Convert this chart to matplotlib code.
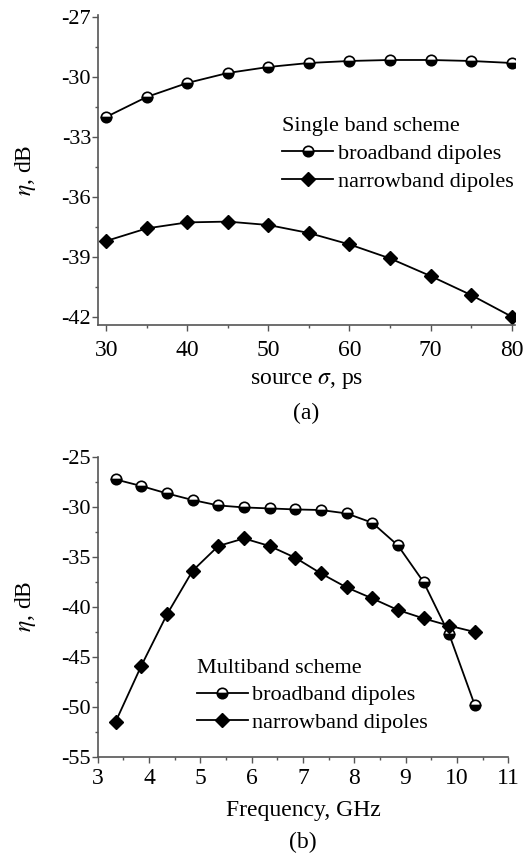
"""
Coupling efficiency eta vs. source width (single band) and vs. frequency (multiband).
"""
import matplotlib
matplotlib.use('Agg')
import matplotlib.pyplot as plt
from matplotlib.ticker import MultipleLocator

# (a) single band scheme
sigma_ps = [30, 35, 40, 45, 50, 55, 60, 65, 70, 75, 80]
single_broad = [-32.0, -31.0, -30.3, -29.8, -29.5, -29.3, -29.2, -29.15, -29.15, -29.2, -29.3]
single_narrow = [-38.2, -37.57, -37.27, -37.23, -37.4, -37.8, -38.37, -39.07, -39.95, -40.9, -41.98]

# (b) multiband scheme
freq_ghz = [3.35, 3.85, 4.35, 4.85, 5.35, 5.85, 6.35, 6.85, 7.35, 7.85, 8.35, 8.85, 9.35, 9.85, 10.35]
multi_broad = [-27.27, -27.93, -28.67, -29.33, -29.87, -30.07, -30.17, -30.27, -30.33, -30.67,
               -31.6, -33.87, -37.53, -42.77, -49.87]
multi_narrow = [-51.5, -45.9, -40.77, -36.4, -33.93, -33.17, -33.93, -35.1, -36.67, -38.07,
                -39.17, -40.33, -41.17, -41.9, -42.53]

plt.rcParams['font.family'] = ['Liberation Serif', 'DejaVu Serif']
plt.rcParams['mathtext.fontset'] = 'stix'
plt.rcParams['axes.unicode_minus'] = False

SPINE = '#555555'
broad_style = dict(color='black', lw=1.3, marker='o', ms=7.5, mfc='black', mfcalt='white',
                   fillstyle='bottom', mec='black', mew=1.2)
narrow_style = dict(color='black', lw=1.3, marker='D', ms=7.5, mfc='black', mec='black')


def style_axis(ax):
    for side in ('top', 'right'):
        ax.spines[side].set_visible(False)
    for side in ('left', 'bottom'):
        ax.spines[side].set_color(SPINE)
        ax.spines[side].set_linewidth(1.2)
    ax.tick_params(which='major', direction='out', length=4, width=1.0, color=SPINE)
    ax.tick_params(which='minor', direction='out', length=2.5, width=1.0, color=SPINE)
    ax.tick_params(axis='y', labelsize=16, pad=1)


fig = plt.figure(figsize=(5.27, 8.66), dpi=100)

ax1 = fig.add_axes([0.186, 0.6247, 0.791, 0.358])
ax1.plot(sigma_ps, single_broad, label='broadband dipoles', **broad_style)
ax1.plot(sigma_ps, single_narrow, label='narrowband dipoles', **narrow_style)
ax1.set_xlim(29, 80.4)
ax1.set_ylim(-42.4, -26.9)
ax1.set_yticks([-27, -30, -33, -36, -39, -42])
ax1.yaxis.set_minor_locator(MultipleLocator(1.5))
ax1.set_xticks([30, 40, 50, 60, 70, 80])
ax1.xaxis.set_minor_locator(MultipleLocator(5))
style_axis(ax1)
ax1.tick_params(axis='x', labelsize=17, pad=7)
ax1.set_xlabel(r'source $\sigma$, ps', fontsize=17, labelpad=6)
ax1.set_ylabel(r'$\eta$, dB', fontsize=17, labelpad=17)
ax1.legend(title='Single band scheme', loc='upper left', bbox_to_anchor=(0.42, 0.70),
           frameon=False, fontsize=16, title_fontsize=16, handlelength=2.3,
           handletextpad=0.2, labelspacing=0.33, borderaxespad=0, alignment='left')
ax1.text(0.5, -0.285, '(a)', transform=ax1.transAxes, ha='center', va='center', fontsize=17)

ax2 = fig.add_axes([0.1854, 0.1262, 0.779, 0.3464])
ax2.plot(freq_ghz, multi_broad, label='broadband dipoles', **broad_style)
ax2.plot(freq_ghz, multi_narrow, label='narrowband dipoles', **narrow_style)
ax2.set_xlim(3, 11)
ax2.set_ylim(-55, -25)
ax2.set_yticks([-25, -30, -35, -40, -45, -50, -55])
ax2.yaxis.set_minor_locator(MultipleLocator(2.5))
ax2.set_xticks(range(3, 12))
ax2.xaxis.set_minor_locator(MultipleLocator(0.5))
style_axis(ax2)
ax2.tick_params(axis='x', labelsize=17, pad=4)
ax2.set_xlabel('Frequency, GHz', fontsize=17, labelpad=8)
ax2.set_ylabel(r'$\eta$, dB', fontsize=17, labelpad=17)
ax2.legend(title='Multiband scheme', loc='upper left', bbox_to_anchor=(0.22, 0.355),
           frameon=False, fontsize=16, title_fontsize=16, handlelength=2.3,
           handletextpad=0.2, labelspacing=0.3, borderaxespad=0, alignment='left')
ax2.text(0.5, -0.285, '(b)', transform=ax2.transAxes, ha='center', va='center', fontsize=17)

fig.savefig('out.png', dpi=100)
